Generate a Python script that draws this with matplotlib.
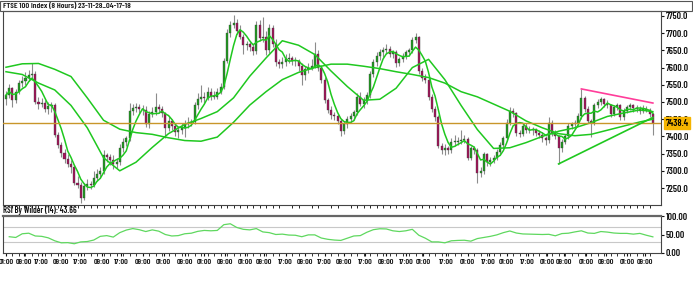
import numpy as np
import pandas as pd
import matplotlib
matplotlib.use("Agg")
import matplotlib.pyplot as plt
from matplotlib.patches import Rectangle

plt.rcParams['font.family'] = ['Barlow Condensed', 'Liberation Sans', 'DejaVu Sans']
plt.rcParams['font.weight'] = 600

title = "FTSE 100 Index (8 Hours) 23-11-28_04-17-18"
rsi_title = "RSI By Wilder (14): 43.66"
last_price = 7438.4

# 8 hour candles
opens = [7510, 7520, 7540, 7505, 7530, 7555, 7562, 7570, 7578, 7582,
         7500, 7495, 7498, 7480, 7488, 7492, 7404, 7375, 7352, 7335,
         7320, 7312, 7265, 7260, 7222, 7255, 7262, 7258, 7280, 7292,
         7298, 7345, 7340, 7332, 7320, 7325, 7365, 7385, 7395, 7475,
         7482, 7486, 7480, 7478, 7435, 7465, 7470, 7485, 7480, 7468,
         7425, 7445, 7430, 7412, 7420, 7425, 7435, 7440, 7442, 7490,
         7508, 7515, 7512, 7530, 7518, 7515, 7530, 7545, 7620, 7700,
         7725, 7730, 7705, 7690, 7665, 7668, 7660, 7648, 7725, 7685,
         7690, 7650, 7715, 7670, 7615, 7610, 7615, 7625, 7628, 7620,
         7618, 7605, 7578, 7595, 7600, 7605, 7640, 7600, 7565, 7505,
         7478, 7462, 7458, 7445, 7415, 7435, 7450, 7458, 7470, 7515,
         7495, 7505, 7520, 7580, 7615, 7635, 7645, 7650, 7655, 7640,
         7645, 7612, 7625, 7635, 7645, 7650, 7680, 7688, 7590, 7570,
         7565, 7515, 7480, 7455, 7372, 7360, 7365, 7360, 7385, 7385,
         7388, 7390, 7392, 7338, 7365, 7360, 7295, 7300, 7348, 7325,
         7330, 7338, 7355, 7375, 7395, 7440, 7475, 7468, 7410, 7408,
         7430, 7420, 7422, 7418, 7410, 7405, 7395, 7390, 7440, 7410,
         7400, 7365, 7385, 7400, 7430, 7435, 7440, 7460, 7512, 7480,
         7445, 7440, 7490, 7500, 7510, 7495, 7490, 7465, 7485, 7490,
         7455, 7475, 7485, 7490, 7482, 7480, 7475, 7480, 7478, 7465]
highs = [7532, 7552, 7545, 7538, 7565, 7575, 7588, 7592, 7613, 7590,
         7515, 7512, 7505, 7500, 7500, 7498, 7412, 7385, 7362, 7348,
         7332, 7318, 7285, 7268, 7265, 7275, 7270, 7300, 7305, 7310,
         7360, 7352, 7348, 7345, 7338, 7378, 7395, 7402, 7498, 7495,
         7498, 7495, 7492, 7488, 7475, 7485, 7526, 7495, 7488, 7472,
         7458, 7452, 7440, 7430, 7438, 7448, 7455, 7452, 7500, 7525,
         7548, 7530, 7545, 7540, 7532, 7540, 7555, 7628, 7712, 7735,
         7753, 7742, 7725, 7698, 7678, 7675, 7668, 7735, 7738, 7747,
         7705, 7728, 7725, 7682, 7625, 7630, 7640, 7642, 7635, 7632,
         7625, 7612, 7605, 7612, 7625, 7675, 7650, 7608, 7572, 7512,
         7488, 7472, 7465, 7452, 7445, 7460, 7468, 7478, 7525, 7528,
         7515, 7528, 7590, 7625, 7645, 7655, 7660, 7668, 7662, 7652,
         7650, 7632, 7642, 7652, 7658, 7690, 7700, 7692, 7598, 7580,
         7570, 7522, 7488, 7462, 7382, 7378, 7372, 7395, 7405, 7398,
         7420, 7405, 7398, 7372, 7372, 7365, 7310, 7355, 7352, 7340,
         7345, 7362, 7385, 7402, 7450, 7485, 7482, 7472, 7420, 7438,
         7440, 7430, 7428, 7425, 7418, 7412, 7402, 7455, 7448, 7418,
         7405, 7392, 7408, 7438, 7442, 7448, 7468, 7538, 7518, 7488,
         7452, 7498, 7508, 7515, 7512, 7505, 7495, 7492, 7498, 7495,
         7482, 7492, 7498, 7495, 7490, 7488, 7492, 7488, 7482, 7468]
lows = [7490, 7512, 7485, 7498, 7522, 7545, 7550, 7560, 7568, 7495,
        7480, 7485, 7470, 7465, 7470, 7398, 7365, 7340, 7322, 7310,
        7295, 7258, 7250, 7206, 7215, 7245, 7248, 7252, 7270, 7280,
        7290, 7325, 7318, 7305, 7308, 7318, 7355, 7372, 7388, 7462,
        7470, 7468, 7462, 7428, 7425, 7455, 7462, 7468, 7455, 7395,
        7415, 7418, 7402, 7395, 7408, 7398, 7425, 7430, 7435, 7480,
        7500, 7498, 7505, 7505, 7508, 7508, 7522, 7538, 7612, 7690,
        7715, 7698, 7682, 7640, 7652, 7648, 7638, 7640, 7678, 7675,
        7638, 7642, 7660, 7605, 7598, 7600, 7605, 7612, 7608, 7605,
        7590, 7548, 7565, 7585, 7592, 7598, 7590, 7555, 7498, 7468,
        7452, 7448, 7435, 7400, 7408, 7425, 7440, 7448, 7462, 7488,
        7482, 7495, 7512, 7572, 7605, 7622, 7632, 7640, 7632, 7628,
        7602, 7605, 7615, 7625, 7635, 7642, 7672, 7582, 7560, 7555,
        7505, 7470, 7445, 7365, 7350, 7345, 7348, 7352, 7372, 7375,
        7378, 7380, 7330, 7330, 7350, 7265, 7282, 7292, 7315, 7315,
        7322, 7330, 7345, 7365, 7388, 7432, 7455, 7400, 7398, 7400,
        7410, 7410, 7405, 7400, 7395, 7385, 7375, 7382, 7402, 7392,
        7320, 7355, 7378, 7392, 7422, 7428, 7432, 7452, 7470, 7438,
        7398, 7432, 7482, 7492, 7485, 7482, 7455, 7458, 7478, 7448,
        7448, 7468, 7478, 7472, 7470, 7465, 7468, 7470, 7455, 7404]
closes = [7520, 7540, 7505, 7530, 7555, 7562, 7570, 7578, 7582, 7500,
          7495, 7498, 7480, 7488, 7492, 7404, 7375, 7352, 7335, 7320,
          7312, 7265, 7260, 7222, 7255, 7262, 7258, 7280, 7292, 7298,
          7345, 7340, 7332, 7320, 7325, 7365, 7385, 7395, 7475, 7482,
          7486, 7480, 7478, 7435, 7465, 7470, 7485, 7480, 7468, 7425,
          7445, 7430, 7412, 7420, 7425, 7435, 7440, 7442, 7490, 7508,
          7515, 7512, 7530, 7518, 7515, 7530, 7545, 7620, 7700, 7725,
          7730, 7705, 7690, 7665, 7668, 7660, 7648, 7725, 7685, 7690,
          7650, 7715, 7670, 7615, 7610, 7615, 7625, 7628, 7620, 7618,
          7605, 7578, 7595, 7600, 7605, 7640, 7600, 7565, 7505, 7478,
          7462, 7458, 7445, 7415, 7435, 7450, 7458, 7470, 7515, 7495,
          7505, 7520, 7580, 7615, 7635, 7645, 7650, 7655, 7640, 7645,
          7612, 7625, 7635, 7645, 7650, 7680, 7688, 7590, 7570, 7565,
          7515, 7480, 7455, 7372, 7360, 7365, 7360, 7385, 7385, 7388,
          7390, 7392, 7338, 7365, 7360, 7295, 7300, 7348, 7325, 7330,
          7338, 7355, 7375, 7395, 7440, 7475, 7468, 7410, 7408, 7430,
          7420, 7422, 7418, 7410, 7405, 7395, 7390, 7440, 7410, 7400,
          7365, 7385, 7400, 7430, 7435, 7440, 7460, 7512, 7480, 7445,
          7440, 7490, 7500, 7510, 7495, 7490, 7465, 7485, 7490, 7455,
          7475, 7485, 7490, 7482, 7480, 7475, 7480, 7478, 7465, 7438.4]

# moving averages read at every 5th bar (mid and slow), fast one from closes
ma_bars = list(range(0, 200, 5)) + [199]
ma_mid = [7588, 7580, 7555, 7535, 7490, 7425, 7338, 7300, 7325, 7368,
          7408, 7435, 7452, 7472, 7512, 7575, 7628, 7678, 7665, 7638,
          7590, 7545, 7505, 7508, 7540, 7600, 7624, 7565, 7490, 7420,
          7365, 7367, 7382, 7400, 7415, 7425, 7440, 7458, 7468, 7477, 7472]
ma_slow = [7601, 7611, 7612, 7595, 7574, 7512, 7447, 7421, 7411, 7406,
           7396, 7388, 7386, 7398, 7441, 7491, 7530, 7565, 7586, 7600,
           7610, 7610, 7604, 7597, 7588, 7580, 7571, 7555, 7530, 7515,
           7494, 7473, 7445, 7425, 7408, 7402, 7406, 7418, 7430, 7442, 7450]
fast_window = 5

# RSI read at every other bar
rsi_bars = list(range(1, 200, 2))
rsi_vals = [44, 42, 52, 53.5, 46, 45, 41, 33, 27.5, 28,
            25, 30, 31, 35, 45, 47, 43, 55, 62, 66,
            63, 58, 62.5, 59, 50, 46, 47, 52, 53.5, 58.5,
            61, 60, 61, 76.5, 79, 69, 64, 62.5, 66, 57,
            55, 50, 51, 48.5, 48, 44, 49, 49, 40.5, 37,
            35, 34, 40, 46, 47, 56, 63, 65.5, 65, 60,
            58, 60, 64, 48, 40, 30, 30, 27.5, 33, 34,
            34.5, 32, 39, 42, 45, 49, 55, 59.5, 54, 51.5,
            51, 50.5, 50, 50.5, 46.5, 52.5, 53.5, 57, 60, 54,
            53, 58, 56.5, 54, 53, 53, 51, 53, 48, 43.66]

tick_bars = [0, 5.5, 11, 17, 23, 29.5, 35.5, 42, 48.5, 55, 61, 67.5, 73.5,
             79.5, 86, 92, 98, 104, 110.5, 117, 123.1, 128.4, 135.5, 142,
             148.5, 154, 160.5, 166.5, 171.7, 178.5, 184.5, 191, 196.5]
tick_labels = ["01:00", "09:00", "17:00", "09:00", "17:00", "09:00", "17:00",
               "09:00", "01:00", "09:00", "01:00", "09:00", "01:00", "09:00",
               "17:00", "09:00", "17:00", "09:00", "17:00", "09:00", "17:00",
               "01:00", "17:00", "01:00", "17:00", "01:00", "17:00", "01:00",
               "09:00", "01:00", "09:00", "01:00", "09:00"]

# trend lines (bar, price)
upper_line = ([177, 199], [7538, 7497])
lower_line = ([170, 199], [7320, 7455])

W, H = 693, 281


def px_box(x0, y0, x1, y1):
    return [x0 / W, 1 - y1 / H, (x1 - x0) / W, (y1 - y0) / H]


fig = plt.figure(figsize=(W / 100, H / 100), dpi=100)
ax = fig.add_axes(px_box(3, 11, 661, 205))
ax2 = fig.add_axes(px_box(3, 216, 661, 253), sharex=ax)

o = np.array(opens, float)
h = np.array(highs, float)
l = np.array(lows, float)
c = np.array(closes, float)
x = np.arange(len(c))
up = c >= o

ax.vlines(x, l, h, color='#8c8c8c', lw=0.8, zorder=2)
body = np.maximum(np.abs(c - o), 1.5)
ax.bar(x[up], body[up], bottom=o[up], width=0.62, color='#1f9c1f',
       edgecolor='#3c3c3c', lw=0.25, zorder=3)
ax.bar(x[~up], body[~up], bottom=c[~up], width=0.62, color='#a3145a',
       edgecolor='#3c3c3c', lw=0.25, zorder=3)

fast = pd.Series(c).rolling(fast_window, min_periods=1).mean()
ma_col = '#1fc81f'
ax.plot(x, fast, color=ma_col, lw=1.1, zorder=4)
ax.plot(ma_bars, ma_mid, color=ma_col, lw=1.1, zorder=4)
ax.plot(ma_bars, ma_slow, color=ma_col, lw=1.1, zorder=4)
ax.plot(*upper_line, color='#ff3d9a', lw=1.2, zorder=5)
ax.plot(*lower_line, color=ma_col, lw=1.2, zorder=5)

ax.axhline(last_price, color='#c8962a', lw=1.0, zorder=4)
ax.text(1.007, last_price, f'{last_price:.1f}', transform=ax.get_yaxis_transform(),
        va='center', ha='left', fontsize=7, zorder=10, clip_on=False,
        bbox=dict(boxstyle='square,pad=0.15', fc='#f5b400', ec='#f5b400'))

ax.set_xlim(-0.92, 201.5)
ax.set_ylim(7200.6, 7764.5)
ax.yaxis.tick_right()
ax.set_yticks(np.arange(7250, 7751, 50))
ax.set_yticklabels([f'{v:.1f}' for v in np.arange(7250, 7751, 50)])
ax.tick_params(axis='y', direction='out', length=2, labelsize=7, pad=1.5,
               colors='#111')
ax.tick_params(axis='x', bottom=False, labelbottom=False)

# rsi panel
ax2.plot(rsi_bars, rsi_vals, color='#5fd85f', lw=0.9)
for lvl in (30, 70):
    ax2.axhline(lvl, color='#c8c8c8', lw=0.8, zorder=0)
ax2.set_ylim(0, 100)
ax2.yaxis.tick_right()
ax2.set_yticks([0, 50, 100])
ax2.set_yticklabels(['0.00', '50.00', '100.00'])
ax2.tick_params(axis='y', direction='out', length=2, labelsize=7, pad=1.5,
                colors='#111')
ax2.set_xticks(tick_bars)
ax2.set_xticklabels(tick_labels)
ax2.set_xticks(np.arange(0, 200, 2), minor=True)
ax2.tick_params(axis='x', which='both', direction='out', length=2,
                labelsize=5.9, pad=2.5, colors='#111')

for a in (ax, ax2):
    for s in a.spines.values():
        s.set_color('#444')
        s.set_linewidth(0.8)
ax2.spines['top'].set_linewidth(1.6)
ax2.spines['top'].set_color('#666')

fig.patches.append(Rectangle((0, 1 - 10.5 / H), 692 / W, 10 / H,
                             transform=fig.transFigure, fill=False,
                             ec='#555', lw=0.8))
fig.text(3 / W, 1 - 5.5 / H, title, fontsize=6, va='center', ha='left',
         color='#111')
fig.text(3 / W, 1 - 210.5 / H, rsi_title, fontsize=6.2, va='center', ha='left',
         color='#111')

fig.savefig('out.png', dpi=100)
